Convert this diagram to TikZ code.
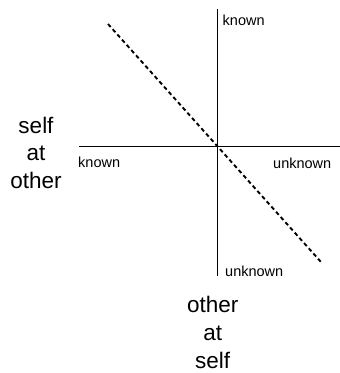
\documentclass[tikz,border=0pt]{standalone}
\usepackage{fontspec}
\setmainfont{Liberation Sans}
\begin{document}
\begin{tikzpicture}[x=1pt,y=-1pt,
  axis/.style={line width=0.9pt},
  diag/.style={line width=1.9pt,dash pattern=on 4pt off 3pt},
  small/.style={inner sep=0pt,anchor=base west,font=\fontsize{14.5}{17}\selectfont},
  big/.style={inner sep=0pt,anchor=base,font=\fontsize{22.5}{27}\selectfont}]
\useasboundingbox (0,0) rectangle (340,373);
\coordinate (vtop) at (217,9);
\coordinate (vbot) at (217,276);
\coordinate (hleft) at (79,146);
\coordinate (hright) at (340,146);
\coordinate (dstart) at (108,24);
\coordinate (dend) at (321,262);
\draw[axis] (vtop) -- (vbot);
\draw[axis] (hleft) -- (hright);
\draw[diag] (dstart) -- (dend);
\node[small] (ktop) at (222.5,25) {known};
\node[small] (kleft) at (78,167) {known};
\node[small] (uright) at (273,168) {unknown};
\node[small] (ubot) at (225,276) {unknown};
\node[big] (l1) at (36,133) {self};
\node[big] (l2) at (36,160.5) {at};
\node[big] (l3) at (36,188) {other};
\node[big] (b1) at (212.7,312) {other};
\node[big] (b2) at (212.7,340.5) {at};
\node[big] (b3) at (212.7,368) {self};
\end{tikzpicture}
\end{document}
